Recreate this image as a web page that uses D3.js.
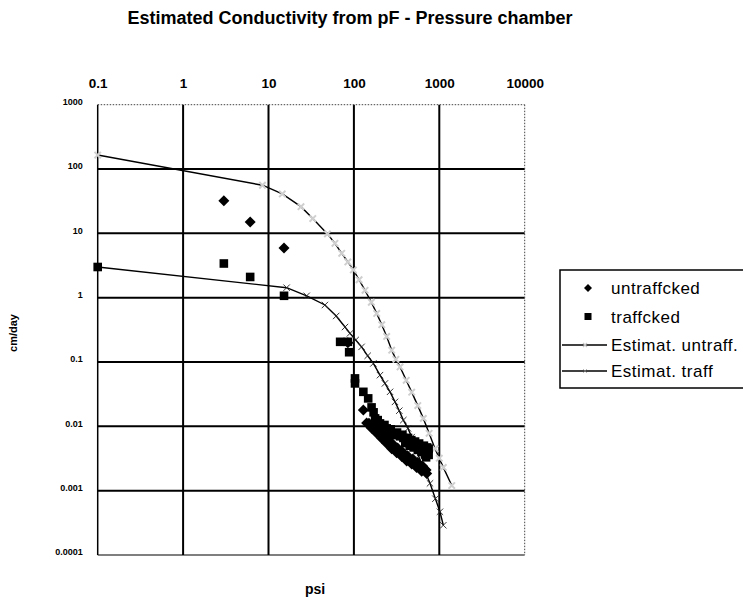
<!DOCTYPE html>
<html>
<head>
<meta charset="utf-8">
<script src="https://cdn.jsdelivr.net/npm/d3@7"></script>
<style>
  html, body { margin: 0; padding: 0; background: #fff; }
  svg { display: block; font-family: Arial, "Liberation Sans", sans-serif; }
</style>
</head>
<body>
<div id="chart"></div>
<script>
// Tick labels for both logarithmic axes
const xTickValues = [0.1, 1, 10, 100, 1000, 10000];
const xTickLabels = ["0.1", "1", "10", "100", "1000", "10000"];
const yTickValues = [1000, 100, 10, 1, 0.1, 0.01, 0.001, 0.0001];
const yTickLabels = ["1000", "100", "10", "1", "0.1", "0.01", "0.001", "0.0001"];

// Measured conductivity, untrafficked soil (psi, cm/day)
const untraffPsi = [3, 6.1, 15.2, 85, 129, 141,
  161, 185, 212, 242, 277, 317, 363, 415, 475, 543, 622, 712,
  172, 198, 227, 260, 296, 340, 390, 445, 510, 580, 665,
  150, 166, 190, 218, 250, 285, 325, 372, 425, 490, 560, 640, 700];
const untraffK = [32, 15, 5.9, 0.2, 0.0179, 0.0113,
  0.0093, 0.0078, 0.0065, 0.0054, 0.0045, 0.0039, 0.0034, 0.0029, 0.0026, 0.0023, 0.0020, 0.00185,
  0.0097, 0.0081, 0.0068, 0.0057, 0.0048, 0.0041, 0.0036, 0.0031, 0.0028, 0.0025, 0.0022,
  0.0112, 0.0100, 0.0086, 0.0073, 0.0062, 0.0053, 0.0046, 0.0040, 0.0035, 0.0031, 0.0027, 0.0024, 0.0021];

// Measured conductivity, trafficked soil (psi, cm/day)
const traffPsi = [0.1, 3, 6.1, 15.2, 69, 85, 88,
  103, 103, 129, 147, 161, 177, 202, 242, 289,
  215, 255, 300,
  347, 380, 415, 455, 496, 540, 590, 640, 690, 750,
  400, 450, 500, 560, 620, 680, 700, 750,
  170, 190, 228, 270, 320, 370, 430, 470, 520, 580, 660, 720];
const traffK = [3.0, 3.4, 2.1, 1.07, 0.206, 0.206, 0.142,
  0.0556, 0.0465, 0.0344, 0.0272, 0.0197, 0.0133, 0.0111, 0.0093, 0.0078,
  0.0098, 0.0083, 0.0073,
  0.0070, 0.0066, 0.0062, 0.0058, 0.0055, 0.0052, 0.0049, 0.0046, 0.0044, 0.0045,
  0.0055, 0.0050, 0.0047, 0.0043, 0.0040, 0.0037, 0.0033, 0.0036,
  0.0165, 0.0125, 0.0105, 0.0090, 0.0080, 0.0074, 0.0066, 0.0061, 0.0058, 0.0054, 0.0050, 0.0047];

// Estimated conductivity curve, untrafficked
const estUntraffPsi = [0.1, 8.5, 14.5, 24, 33, 49, 60, 72, 85, 98.5, 115, 135, 160, 185, 212,
  242, 277, 310, 347, 410, 475, 560, 650, 760, 891, 1000, 1114, 1400];
const estUntraffK = [165, 56, 41, 26, 17, 9.8, 7.0, 4.9, 3.6, 2.7, 1.9, 1.3, 0.85, 0.57, 0.38,
  0.25, 0.153, 0.11, 0.084, 0.052, 0.034, 0.021, 0.0133, 0.0078, 0.0045, 0.0032, 0.0023, 0.0012];

// Estimated conductivity curve, trafficked
const estTraffPsi = [0.1, 16.3, 28, 45.8, 62, 78.7, 90, 105, 123, 145, 169, 202, 231, 265, 303,
  340, 379, 430, 475, 530, 594, 680, 778, 900, 1018, 1114];
const estTraffK = [3.0, 1.43, 1.07, 0.77, 0.52, 0.35, 0.279, 0.22, 0.172, 0.125, 0.095, 0.0625,
  0.0465, 0.0344, 0.024, 0.0175, 0.0125, 0.0093, 0.0068, 0.0046, 0.0030, 0.0020, 0.0013,
  0.00075, 0.00047, 0.00029];

const legendLabels = ["untraffcked", "traffcked", "Estimat. untraff.", "Estimat. traff"];

const W = 743, H = 604;
const plot = { left: 97.7, right: 524.7, top: 104.7, bottom: 555 };

const svg = d3.select("#chart").append("svg")
  .attr("width", W).attr("height", H);

const x = d3.scaleLog().domain([0.1, 10000]).range([plot.left, plot.right]);
const y = d3.scaleLog().domain([0.0001, 1000]).range([plot.bottom, plot.top]);

// Title
svg.append("text")
  .attr("x", 350).attr("y", 24)
  .attr("text-anchor", "middle")
  .attr("font-size", 18).attr("font-weight", "bold")
  .text("Estimated Conductivity from pF - Pressure chamber");

// Grid: heavy interior lines, dotted outer top/right frame
const grid = svg.append("g");
xTickValues.slice(1, -1).forEach(v => {
  grid.append("line")
    .attr("x1", x(v)).attr("x2", x(v)).attr("y1", plot.top).attr("y2", plot.bottom)
    .attr("stroke", "#000").attr("stroke-width", 2);
});
yTickValues.slice(1, -1).forEach(v => {
  grid.append("line")
    .attr("x1", plot.left).attr("x2", plot.right).attr("y1", y(v)).attr("y2", y(v))
    .attr("stroke", "#000").attr("stroke-width", 2);
});
grid.append("line")
  .attr("x1", plot.left).attr("x2", plot.right).attr("y1", plot.top).attr("y2", plot.top)
  .attr("stroke", "#444").attr("stroke-width", 1).attr("stroke-dasharray", "1.5,1.5");
grid.append("line")
  .attr("x1", plot.right).attr("x2", plot.right).attr("y1", plot.top).attr("y2", plot.bottom)
  .attr("stroke", "#444").attr("stroke-width", 1).attr("stroke-dasharray", "1.5,1.5");
grid.append("line")
  .attr("x1", plot.left).attr("x2", plot.right).attr("y1", plot.bottom).attr("y2", plot.bottom)
  .attr("stroke", "#000").attr("stroke-width", 1.2);
grid.append("line")
  .attr("x1", plot.left).attr("x2", plot.left).attr("y1", plot.top).attr("y2", plot.bottom)
  .attr("stroke", "#000").attr("stroke-width", 1.5);

// Top axis (psi) labels
const xAxis = d3.axisTop(x).tickValues(xTickValues)
  .tickFormat((d, i) => xTickLabels[i]).tickSize(0).tickPadding(0);
const gx = svg.append("g").attr("transform", `translate(0,${plot.top - 17})`).call(xAxis);
gx.select(".domain").remove();
gx.selectAll("text").attr("font-size", 13.5).attr("font-weight", "bold")
  .attr("font-family", "Arial, 'Liberation Sans', sans-serif").attr("fill", "#000");

// Left axis (cm/day) labels
const yAxis = d3.axisLeft(y).tickValues(yTickValues)
  .tickFormat((d, i) => yTickLabels[i]).tickSize(0).tickPadding(0);
const gy = svg.append("g").attr("transform", `translate(${plot.left - 15},-3)`).call(yAxis);
gy.select(".domain").remove();
gy.selectAll("text").attr("font-size", 9).attr("font-weight", "bold")
  .attr("font-family", "Arial, 'Liberation Sans', sans-serif").attr("fill", "#000");

// Axis titles
svg.append("text")
  .attr("transform", "translate(17,333) rotate(-90)")
  .attr("text-anchor", "middle")
  .attr("font-size", 11).attr("font-weight", "bold")
  .text("cm/day");
svg.append("text")
  .attr("x", 315).attr("y", 594)
  .attr("text-anchor", "middle")
  .attr("font-size", 14).attr("font-weight", "bold")
  .text("psi");

// Estimated curves
const line = d3.line().x(d => x(d[0])).y(d => y(d[1]));
const estU = estUntraffPsi.map((p, i) => [p, estUntraffK[i]]);
const estT = estTraffPsi.map((p, i) => [p, estTraffK[i]]);

svg.append("path").datum(estU).attr("d", line)
  .attr("fill", "none").attr("stroke", "#000").attr("stroke-width", 1.4);
svg.append("path").datum(estT).attr("d", line)
  .attr("fill", "none").attr("stroke", "#000").attr("stroke-width", 1.4);

const cross = (g, cx, cy, r, color, sw) => {
  g.append("path")
    .attr("d", `M${cx - r},${cy - r}L${cx + r},${cy + r}M${cx - r},${cy + r}L${cx + r},${cy - r}`)
    .attr("stroke", color).attr("stroke-width", sw).attr("fill", "none");
};
const mU = svg.append("g");
estU.forEach(d => cross(mU, x(d[0]), y(d[1]), 3.2, "#cfcfcf", 2));
const mT = svg.append("g");
estT.slice(1).forEach(d => cross(mT, x(d[0]), y(d[1]), 3.2, "#222", 0.9));

// Measured points
const diamond = (cx, cy, r) => `M${cx},${cy - r}L${cx + r},${cy}L${cx},${cy + r}L${cx - r},${cy}Z`;
svg.append("g").selectAll("path")
  .data(traffPsi.map((p, i) => [p, traffK[i]]))
  .join("path")
  .attr("d", d => { const cx = x(d[0]), cy = y(d[1]), s = 4.3; return `M${cx - s},${cy - s}h${2 * s}v${2 * s}h${-2 * s}Z`; })
  .attr("fill", "#000");
svg.append("g").selectAll("path")
  .data(untraffPsi.map((p, i) => [p, untraffK[i]]))
  .join("path")
  .attr("d", d => diamond(x(d[0]), y(d[1]), 5.5))
  .attr("fill", "#000");

// Legend
const lg = svg.append("g");
lg.append("rect").attr("x", 560).attr("y", 270).attr("width", 200).attr("height", 118)
  .attr("fill", "#fff").attr("stroke", "#000").attr("stroke-width", 1.5);
const rowY = [288, 316.5, 345, 371];
lg.append("path").attr("d", diamond(588, rowY[0], 4)).attr("fill", "#000");
lg.append("rect").attr("x", 584.5).attr("y", rowY[1] - 3.5).attr("width", 7).attr("height", 7).attr("fill", "#000");
lg.append("line").attr("x1", 562).attr("x2", 607).attr("y1", rowY[2]).attr("y2", rowY[2])
  .attr("stroke", "#000").attr("stroke-width", 1.3);
cross(lg, 585, rowY[2], 2, "#c8c8c8", 1.2);
lg.append("line").attr("x1", 562).attr("x2", 607).attr("y1", rowY[3]).attr("y2", rowY[3])
  .attr("stroke", "#000").attr("stroke-width", 1.3);
cross(lg, 585, rowY[3], 2, "#888", 0.6);
legendLabels.forEach((t, i) => {
  lg.append("text").attr("x", 611).attr("y", rowY[i] + 6)
    .attr("font-size", 17).attr("letter-spacing", 0.5)
    .text(t);
});
</script>
</body>
</html>
